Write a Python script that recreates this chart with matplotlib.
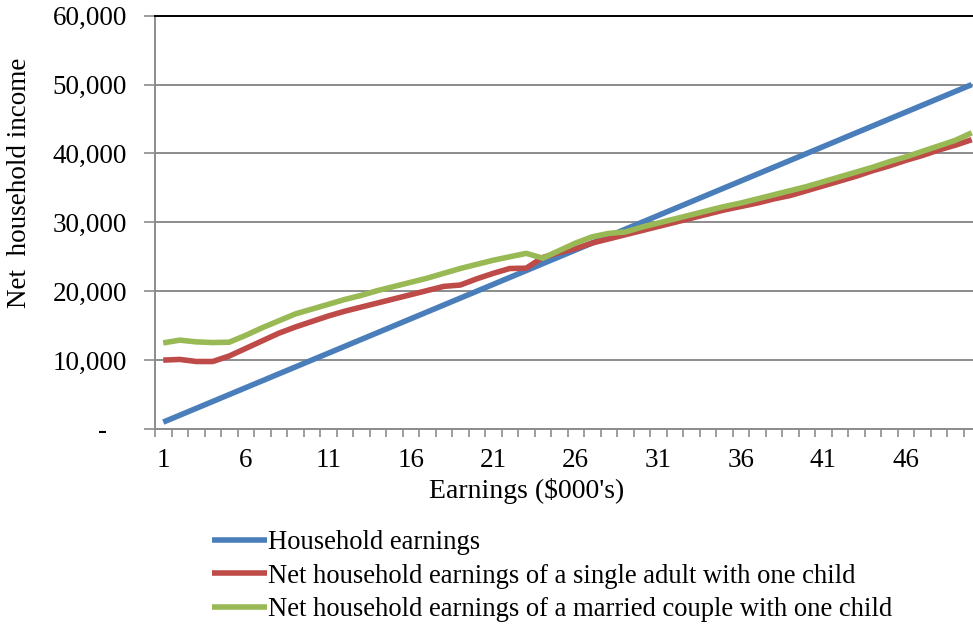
import numpy as np
import matplotlib.pyplot as plt
from matplotlib.ticker import FuncFormatter

plt.rcParams['font.family'] = ['Liberation Serif', 'DejaVu Serif']

# earnings in $000's
earnings = list(range(1, 51))

household = [1000, 2000, 3000, 4000, 5000, 6000, 7000, 8000, 9000, 10000,
             11000, 12000, 13000, 14000, 15000, 16000, 17000, 18000, 19000, 20000,
             21000, 22000, 23000, 24000, 25000, 26000, 27000, 28000, 29000, 30000,
             31000, 32000, 33000, 34000, 35000, 36000, 37000, 38000, 39000, 40000,
             41000, 42000, 43000, 44000, 45000, 46000, 47000, 48000, 49000, 50000]

single_adult = [10000, 10100, 9800, 9800, 10600, 11700, 12800, 13900, 14800, 15600,
                16400, 17100, 17700, 18300, 18900, 19500, 20100, 20700, 20900, 21800,
                22600, 23300, 23350, 24900, 25600, 26200, 27000, 27600, 28200, 28800,
                29400, 30000, 30600, 31200, 31800, 32300, 32800, 33400, 33900, 34600,
                35300, 36000, 36700, 37500, 38200, 39000, 39700, 40500, 41200, 42000]

married = [12500, 12900, 12650, 12550, 12600, 13600, 14700, 15700, 16700, 17400,
           18100, 18800, 19400, 20100, 20700, 21300, 21900, 22600, 23300, 23900,
           24500, 25000, 25500, 24800, 25900, 27000, 27900, 28400, 28600, 29300,
           29900, 30500, 31100, 31700, 32300, 32800, 33400, 34000, 34600, 35200,
           35900, 36600, 37300, 38000, 38800, 39500, 40300, 41100, 41900, 43000]

series_names = ["Household earnings",
                "Net household earnings of a single adult with one child",
                "Net household earnings of a married couple with one child"]
colors = ['#4A7EBB', '#BE4B48', '#98B954']

W, H = 973, 626
fig = plt.figure(figsize=(W / 100, H / 100), dpi=100)
ax = fig.add_axes([155 / W, 1 - 429 / H, 825 / W, (429 - 15.7) / H])

for ys, name, c in zip([household, single_adult, married], series_names, colors):
    ax.plot(earnings, ys, color=c, lw=4, label=name, solid_capstyle='butt')

ax.set_xlim(0.5, 50.5)
ax.set_ylim(0, 60000)
ax.set_yticks(np.arange(0, 60001, 10000))
ax.yaxis.set_major_formatter(FuncFormatter(lambda v, p: '-   ' if v == 0 else f'{v:,.0f}'))
ax.yaxis.grid(True, color='#8C8C8C', lw=1.4)
ax.set_axisbelow(True)

# category axis: tick marks between categories, labels every 5th
ax.set_xticks(np.arange(0.5, 51, 1))
ax.set_xticklabels([])
ax.set_xticks(earnings[::5], minor=True)
ax.set_xticklabels([str(e) for e in earnings[::5]], minor=True)
ax.tick_params(axis='x', which='major', length=6, width=1.2, color='#8C8C8C', direction='out')
ax.tick_params(axis='x', which='minor', length=0, pad=14, labelsize=19.5)
ax.tick_params(axis='y', length=8, width=1.2, color='#8C8C8C', pad=12, labelsize=19.5)

for s in ['left', 'bottom']:
    ax.spines[s].set_color('#8C8C8C')
    ax.spines[s].set_linewidth(1.4)
ax.spines['right'].set_visible(False)
ax.spines['top'].set_color('black')
ax.spines['top'].set_linewidth(1.4)

fig.text(527 / W, 1 - 491 / H, "Earnings ($000's)", ha='center', va='center', fontsize=20)
fig.text(20 / W, 1 - 183 / H, "Net  household income", ha='center', va='center',
         rotation=90, fontsize=19.5)

fig.legend(loc='upper left', bbox_to_anchor=(212 / W, 1 - 530 / H), frameon=False,
           fontsize=19.2, handlelength=2.05, handletextpad=0.05, labelspacing=0.32,
           borderaxespad=0, borderpad=0)

fig.savefig('out.png', dpi=100)
